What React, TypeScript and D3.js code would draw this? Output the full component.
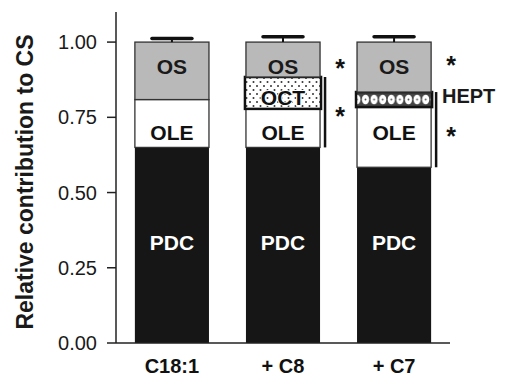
import React from 'react';
import { scaleBand, scaleLinear, stack } from 'd3';

// values (fractions of CS)
const categories = ['C18:1', '+ C8', '+ C7'];
const pdc = [0.65, 0.65, 0.584];
const ole = [0.159, 0.128, 0.2];
const added = [0, 0.106, 0.05]; // OCT for +C8, HEPT for +C7
const os = [0.191, 0.116, 0.166];
const errs = [0.012, 0.018, 0.018];
const addedNames = ['', 'OCT', 'HEPT'];
const yTicks = [0, 0.25, 0.5, 0.75, 1.0];

const keys = ['pdc', 'ole', 'added', 'os'];
const table = categories.map((c, i) => ({ cat: c, pdc: pdc[i], ole: ole[i], added: added[i], os: os[i] }));

const W = 505, H = 378;
const font = "'Liberation Sans', Arial, Helvetica, sans-serif";

export default function App() {
  const x = scaleBand().domain(categories).range([116, 450]).paddingInner(0.333).paddingOuter(0.17);
  const y = scaleLinear().domain([0, 1.1]).range([343, 12]);
  const layers = stack().keys(keys)(table as any);
  const bw = x.bandwidth();

  const fills = { pdc: '#161616', ole: '#ffffff', os: '#b9b9b9' };

  return (
    <svg width={W} height={H} style={{ position: 'absolute', left: 0, top: 0, background: '#fff' }}
      fontFamily={font}>
      <defs>
        <pattern id="oct" patternUnits="userSpaceOnUse" width="7" height="8">
          <rect width="7" height="8" fill="#fff" />
          <circle cx="1.5" cy="2" r="1" fill="#333" />
          <circle cx="5" cy="6" r="1" fill="#333" />
        </pattern>
        <pattern id="hept" patternUnits="userSpaceOnUse" width="8.6" height="15" y={y(0.834)}>
          <rect width="8.6" height="15" fill="#444" />
          <ellipse cx="4.3" cy="7.5" rx="3.6" ry="4.8" fill="#fff" />
          <circle cx="4.3" cy="7.5" r="0.9" fill="#555" />
        </pattern>
      </defs>

      {/* y axis */}
      <line x1={116} x2={116} y1={y(1.1)} y2={y(0)} stroke="#222" strokeWidth={1.5} />
      {yTicks.map(t => (
        <g key={t}>
          <line x1={107} x2={116} y1={y(t)} y2={y(t)} stroke="#222" strokeWidth={1.5} />
          <text x={97} y={y(t)} dy="0.35em" textAnchor="end" fontSize={20} fill="#1a1a1a">{t.toFixed(2)}</text>
        </g>
      ))}
      <text transform={`translate(33,${y(0.535)}) rotate(-90)`} textAnchor="middle" fontSize={23}
        fontWeight="bold" fill="#1a1a1a">Relative contribution to CS</text>

      {/* bars */}
      {layers.map(layer => (
        <g key={layer.key}>
          {layer.map((seg, i) => {
            const v = seg[1] - seg[0];
            if (v <= 0) return null;
            const x0 = x(categories[i])!;
            const top = y(seg[1]), h = y(seg[0]) - y(seg[1]);
            if (layer.key === 'added') {
              return <rect key={i} x={x0 - 1} y={top} width={bw + 2} height={h}
                fill={addedNames[i] === 'OCT' ? 'url(#oct)' : 'url(#hept)'} stroke="#111" strokeWidth={2.5} />;
            }
            return <rect key={i} x={x0} y={top} width={bw} height={h}
              fill={(fills as any)[layer.key]} stroke={layer.key === 'pdc' ? 'none' : '#333'} strokeWidth={1.3} />;
          })}
        </g>
      ))}

      {/* error bars */}
      {categories.map((c, i) => {
        const cx = x(c)! + bw / 2;
        const top = pdc[i] + ole[i] + added[i] + os[i];
        return (
          <g key={c} stroke="#111">
            <line x1={cx} x2={cx} y1={y(top)} y2={y(top + errs[i])} strokeWidth={2} />
            <line x1={cx - 20} x2={cx + 20} y1={y(top + errs[i])} y2={y(top + errs[i])} strokeWidth={3.5} strokeLinecap="round" />
          </g>
        );
      })}

      {/* segment labels */}
      {categories.map((c, i) => {
        const cx = x(c)! + bw / 2;
        return (
          <g key={c} fontWeight="bold" fontSize={21} textAnchor="middle">
            <text x={cx} y={y(0.92)} dy="0.35em" fill="#1a1a1a">OS</text>
            <text x={cx} y={y(0.70)} dy="0.35em" fill="#111">OLE</text>
            <text x={cx} y={y(0.332)} dy="0.35em" fill="#fff">PDC</text>
            {addedNames[i] === 'OCT' && (
              <text x={cx} y={y(0.817)} dy="0.35em" fill="#111" stroke="#fff" strokeWidth={2}
                paintOrder="stroke">OCT</text>
            )}
          </g>
        );
      })}
      <text x={442} y={103} fontWeight="bold" fontSize={20} fill="#1a1a1a">HEPT</text>

      {/* significance brackets */}
      {[1, 2].map(i => {
        const xr = x(categories[i])! + bw + 5;
        const lo = pdc[i], hi = pdc[i] + ole[i] + added[i];
        return (
          <g key={i}>
            <line x1={xr} x2={xr} y1={y(hi)} y2={y(lo)} stroke="#111" strokeWidth={2.5} />
            <text x={xr + 15} y={i === 1 ? 77 : 74} textAnchor="middle" fontSize={25} fontWeight="bold" fill="#111">*</text>
            <text x={xr + 15} y={i === 1 ? 125 : 145} textAnchor="middle" fontSize={25} fontWeight="bold" fill="#111">*</text>
          </g>
        );
      })}

      {/* x axis */}
      <line x1={116} x2={450} y1={y(0)} y2={y(0)} stroke="#222" strokeWidth={1.5} />
      {categories.map(c => (
        <text key={c} x={x(c)! + bw / 2} y={373} textAnchor="middle" fontSize={20} fontWeight="bold" fill="#111">{c}</text>
      ))}
    </svg>
  );
}
